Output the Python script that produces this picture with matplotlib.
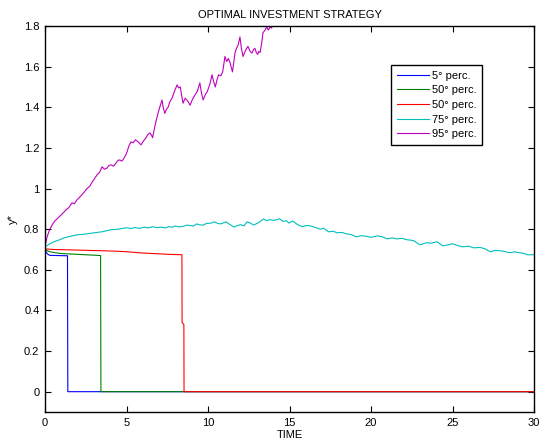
import numpy as np
import matplotlib.pyplot as plt

plt.rcParams['font.family'] = ['Liberation Sans', 'DejaVu Sans']

# percentile paths
t_blue = [0, 0.05, 0.15, 0.3, 0.8, 1.38, 1.40, 30]
y_blue = [0.705, 0.69, 0.678, 0.671, 0.670, 0.669, 0.0, 0.0]

t_green = [0, 0.1, 0.3, 0.6, 1.0, 2.0, 3.0, 3.41, 3.43, 30]
y_green = [0.705, 0.695, 0.689, 0.684, 0.68, 0.676, 0.672, 0.670, 0.0, 0.0]

t_red = [0, 0.5, 1.5, 2.4, 3.4, 4.2, 5.0, 5.9, 6.9, 7.6, 8.0, 8.40, 8.41, 8.52, 8.53, 30]
y_red = [0.703, 0.700, 0.698, 0.696, 0.694, 0.692, 0.689, 0.683, 0.679, 0.676,
         0.675, 0.674, 0.34, 0.33, 0.0, 0.0]

t_cyan = [0, 0.3, 0.55, 0.9, 1.17, 1.5, 1.96, 2.5, 3.0, 3.5, 4.05, 4.5, 5.0, 5.3,
          5.5, 5.8, 6.07, 6.3, 6.6, 6.9, 7.1, 7.4, 7.6, 7.8, 8.0, 8.2, 8.5, 8.7,
          8.9, 9.1, 9.3, 9.5, 9.7, 9.9, 10.2, 10.4, 10.6, 10.8, 11.1, 11.3, 11.6,
          11.8, 12.0, 12.2, 12.4, 12.6, 12.8, 13.1, 13.4, 13.6, 13.8, 14.0, 14.2,
          14.4, 14.6, 14.8, 14.97, 15.2, 15.5, 15.8, 16.0, 16.3, 16.6, 16.9, 17.1,
          17.4, 17.7, 17.9, 18.2, 18.5, 18.8, 19.1, 19.4, 19.7, 20.0, 20.4, 20.7,
          21.0, 21.3, 21.6, 21.9, 22.2, 22.6, 23.0, 23.2, 23.4, 23.7, 24.05, 24.4,
          24.7, 25.0, 25.3, 25.6, 26.0, 26.3, 26.7, 27.0, 27.3, 27.6, 27.9, 28.2,
          28.5, 28.8, 29.1, 29.4, 29.6, 30]
y_cyan = [0.713, 0.728, 0.738, 0.748, 0.757, 0.764, 0.772, 0.776, 0.782, 0.787,
          0.797, 0.800, 0.807, 0.803, 0.808, 0.804, 0.810, 0.806, 0.812, 0.807,
          0.810, 0.806, 0.813, 0.809, 0.816, 0.811, 0.814, 0.820, 0.818, 0.815,
          0.826, 0.821, 0.820, 0.828, 0.830, 0.836, 0.828, 0.826, 0.836, 0.825,
          0.810, 0.818, 0.822, 0.816, 0.836, 0.830, 0.820, 0.832, 0.850, 0.842,
          0.847, 0.843, 0.846, 0.851, 0.838, 0.842, 0.830, 0.840, 0.822, 0.812,
          0.818, 0.816, 0.808, 0.800, 0.804, 0.787, 0.790, 0.782, 0.784, 0.777,
          0.773, 0.762, 0.768, 0.765, 0.760, 0.767, 0.762, 0.752, 0.757, 0.752,
          0.755, 0.748, 0.744, 0.723, 0.728, 0.733, 0.731, 0.738, 0.718, 0.722,
          0.728, 0.720, 0.713, 0.716, 0.708, 0.710, 0.703, 0.689, 0.695, 0.694,
          0.690, 0.684, 0.688, 0.684, 0.680, 0.674, 0.674]

t_mag = [0, 0.12, 0.25, 0.43, 0.6, 0.86, 1.05, 1.29, 1.45, 1.66, 1.8, 1.96, 2.1,
         2.27, 2.4, 2.58, 2.75, 2.88, 3.05, 3.19, 3.35, 3.5, 3.65, 3.8, 3.9, 4.05,
         4.2, 4.36, 4.5, 4.6, 4.72, 4.85, 4.95, 5.03, 5.15, 5.28, 5.4, 5.55, 5.7,
         5.89, 6.05, 6.2, 6.3, 6.44, 6.55, 6.6, 6.75, 6.87, 7.0, 7.18, 7.25, 7.35,
         7.45, 7.55, 7.65, 7.8, 7.95, 8.1, 8.2, 8.3, 8.38, 8.47, 8.6, 8.7, 8.8,
         8.9, 9.05, 9.2, 9.35, 9.5, 9.6, 9.7, 9.85, 9.95, 10.1, 10.25, 10.35,
         10.45, 10.55, 10.65, 10.78, 10.9, 11.04, 11.15, 11.25, 11.35, 11.5,
         11.58, 11.66, 11.75, 11.85, 11.96, 12.05, 12.15, 12.3, 12.45, 12.58,
         12.7, 12.8, 12.88, 12.96, 13.05, 13.12, 13.2, 13.3, 13.37, 13.5, 13.6,
         13.7, 13.8, 13.9, 14.0, 14.5]
y_mag = [0.713, 0.76, 0.79, 0.82, 0.84, 0.86, 0.875, 0.895, 0.905, 0.93, 0.925,
         0.944, 0.955, 0.97, 0.982, 1.0, 1.012, 1.03, 1.05, 1.067, 1.08, 1.107,
         1.095, 1.10, 1.112, 1.117, 1.11, 1.126, 1.14, 1.14, 1.135, 1.15, 1.165,
         1.18, 1.21, 1.23, 1.225, 1.24, 1.23, 1.215, 1.235, 1.25, 1.265, 1.274,
         1.26, 1.25, 1.31, 1.35, 1.39, 1.436, 1.40, 1.37, 1.39, 1.40, 1.425,
         1.446, 1.48, 1.51, 1.495, 1.50, 1.46, 1.42, 1.445, 1.436, 1.425, 1.41,
         1.44, 1.46, 1.48, 1.52, 1.47, 1.436, 1.465, 1.476, 1.51, 1.56, 1.525,
         1.50, 1.535, 1.56, 1.555, 1.574, 1.65, 1.625, 1.64, 1.62, 1.574, 1.62,
         1.67, 1.69, 1.707, 1.746, 1.69, 1.65, 1.68, 1.70, 1.675, 1.667, 1.685,
         1.69, 1.67, 1.66, 1.675, 1.67, 1.72, 1.766, 1.78, 1.795, 1.78, 1.795,
         1.79, 1.81, 1.86]

labels = ['5° perc.', '50° perc.', '50° perc.', '75° perc.', '95° perc.']
colors = ['#0000ff', '#008000', '#ff0000', '#00bfbf', '#bf00bf']

fig = plt.figure(figsize=(5.44, 4.42), dpi=100)
ax = fig.add_axes([45 / 544, 30 / 442, 489 / 544, 386 / 442])

series = [(t_blue, y_blue), (t_green, y_green), (t_red, y_red),
          (t_cyan, y_cyan), (t_mag, y_mag)]
for (t, y), c, lab in zip(series, colors, labels):
    ax.plot(t, y, color=c, linewidth=0.8, label=lab)

ax.set_xlim(0, 30)
ax.set_ylim(-0.1, 1.8)
ax.set_xticks(np.arange(0, 31, 5))
ax.set_yticks(np.arange(0, 1.81, 0.2))
ax.set_yticklabels(['0', '0.2', '0.4', '0.6', '0.8', '1', '1.2', '1.4', '1.6', '1.8'])
ax.tick_params(direction='in', top=True, right=True, length=4, width=0.8,
               labelsize=8, pad=4)
for s in ax.spines.values():
    s.set_linewidth(1.0)

ax.set_title('OPTIMAL INVESTMENT STRATEGY', fontsize=8, pad=6)
ax.set_xlabel('TIME', fontsize=8, labelpad=2)
ax.set_ylabel('y*', fontsize=8, labelpad=4)

leg = ax.legend(loc='upper left', bbox_to_anchor=(0.7076, 0.899), fontsize=8,
                frameon=True, fancybox=False, framealpha=1, edgecolor='black',
                borderaxespad=0, handlelength=2.9, handletextpad=0.3,
                labelspacing=0.42, borderpad=0.5)
leg.get_frame().set_linewidth(1.0)

fig.savefig('out.png', dpi=100)
